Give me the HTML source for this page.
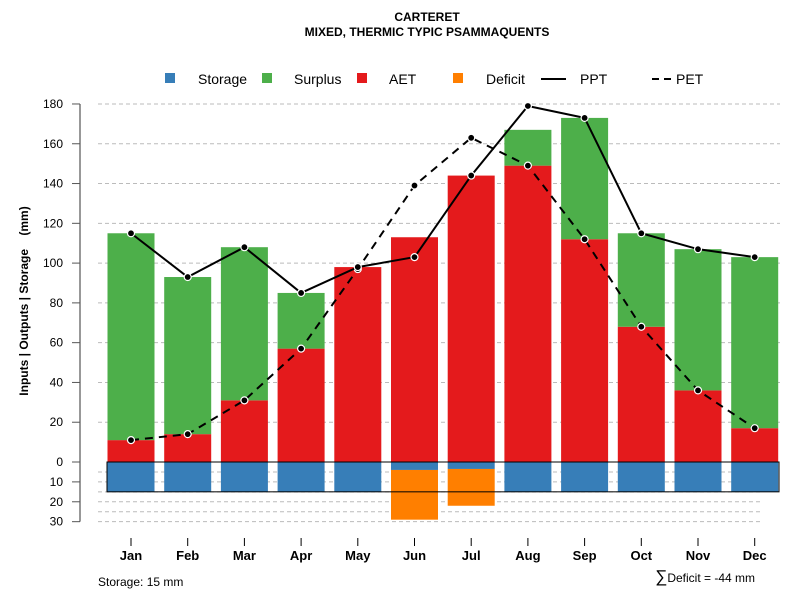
<!DOCTYPE html>
<html><head><meta charset="utf-8"><style>
body{margin:0;background:#fff}
svg{display:block;font-family:"Liberation Sans",sans-serif}
</style></head><body>
<svg id="c" width="800" height="600">
<text x="427" y="21" text-anchor="middle" font-size="12" font-weight="bold">CARTERET</text>
<text x="427" y="36" text-anchor="middle" font-size="12" font-weight="bold">MIXED, THERMIC TYPIC PSAMMAQUENTS</text>
<text transform="translate(28,301) rotate(-90)" text-anchor="middle" font-size="12" font-weight="bold" xml:space="preserve">Inputs | Outputs | Storage    (mm)</text>
<text x="98" y="586" font-size="12">Storage: 15 mm</text>
<text x="755" y="582" text-anchor="end" font-size="12"><tspan font-size="17">∑</tspan>Deficit = -44 mm</text>
<g id="legend"></g>
<g id="plot"></g>
</svg>
<script>
const months=["Jan","Feb","Mar","Apr","May","Jun","Jul","Aug","Sep","Oct","Nov","Dec"];
const ppt=[115,93,108,85,98,103,144,179,173,115,107,103];
const pet=[11,14,31,57,97,139,163,149,112,68,36,17];
const aet=[11,14,31,57,98,113,144,149,112,68,36,17];
const surplus=[104,79,77,28,0,0,0,18,61,47,71,86];
const storage=[15,15,15,15,15,4,3.5,15,15,15,15,15];
const deficit=[0,0,0,0,0,25,18.5,0,0,0,0,0];
const yTicks=[0,20,40,60,80,100,120,140,160,180];
const yTicksLow=[10,20,30];
const NS="http://www.w3.org/2000/svg";
const X=i=>131+i*56.7;
const Y=v=>462-v*1.989;
const plot=document.getElementById('plot');
function mk(tag,a,p){const e=document.createElementNS(NS,tag);for(const k in a)e.setAttribute(k,a[k]);(p||plot).appendChild(e);return e;}
for(let v=20;v<=180;v+=20){const g=mk('line',{x1:98,x2:780,y1:Y(v),y2:Y(v),stroke:'#bbb','stroke-dasharray':'4,3'});

}
for(let v=5;v<=30;v+=5){const g=mk('line',{x1:98,x2:760,y1:Y(-v),y2:Y(-v),stroke:'#bbb','stroke-dasharray':'4,3'});

}
const ax=mk('line',{x1:80,x2:80,y1:Y(180),y2:Y(-30),stroke:'#777','stroke-width':1.5});


yTicks.forEach(v=>{mk('line',{x1:72,x2:80,y1:Y(v),y2:Y(v),stroke:'#555'});
const t=mk('text',{x:63,y:Y(v)+4,'text-anchor':'end','font-size':12});t.textContent=v;

});
yTicksLow.forEach(v=>{mk('line',{x1:72,x2:80,y1:Y(-v),y2:Y(-v),stroke:'#555'});
const t=mk('text',{x:63,y:Y(-v)+4,'text-anchor':'end','font-size':12});t.textContent=v;

});
const bw=47;
months.forEach((m,i)=>{
 const x=X(i)-bw/2;
 const a=mk('rect',{x:x,y:Y(aet[i]),width:bw,height:aet[i]*1.989,fill:'#e41a1c'});
 
 
 if(surplus[i]>0){const s=mk('rect',{x:x,y:Y(aet[i]+surplus[i]),width:bw,height:surplus[i]*1.989,fill:'#4daf4a'});
 
 }
 const st=mk('rect',{x:x,y:Y(0),width:bw,height:storage[i]*1.989,fill:'#377eb8'});
 
 
 if(deficit[i]>0){const d=mk('rect',{x:x,y:Y(-storage[i]),width:bw,height:deficit[i]*1.989,fill:'#ff7f00'});
 
 }
 mk('line',{x1:X(i),x2:X(i),y1:538,y2:546,stroke:'#000'});
 const t=mk('text',{x:X(i),y:560,'text-anchor':'middle','font-size':13,'font-weight':'bold'});t.textContent=m;
 
 
});
const box=mk('rect',{x:107,y:Y(0),width:672,height:15*1.989,fill:'none',stroke:'#000','stroke-width':1});


function line(arr,dash,name){
 const p=mk('polyline',{points:arr.map((v,i)=>X(i)+','+Y(v)).join(' '),fill:'none',stroke:'#000','stroke-width':2,'stroke-dasharray':dash});
 
 
 arr.forEach((v,i)=>{const c=mk('circle',{cx:X(i),cy:Y(v),r:3.5,fill:'#000',stroke:'#fff','stroke-width':1.2});
 
 });
}
line(pet,'8,6','pet');
line(ppt,'none','ppt');
const lg=document.getElementById('legend');
[["Storage","#377eb8",165,198],["Surplus","#4daf4a",262,294],["AET","#e41a1c",357,389],["Deficit","#ff7f00",453,486]].forEach(([n,c,x,tx])=>{
 const r=mk('rect',{x:x,y:73,width:10,height:10,fill:c},lg);
 
 
 const t=mk('text',{x:tx,y:84,'font-size':14},lg);t.textContent=n;
 
 
});
mk('line',{x1:541,x2:566,y1:79,y2:79,stroke:'#000','stroke-width':2},lg);
const t1=mk('text',{x:580,y:84,'font-size':14},lg);t1.textContent='PPT';


mk('line',{x1:652,x2:674,y1:79,y2:79,stroke:'#000','stroke-width':2,'stroke-dasharray':'7,5'},lg);
const t2=mk('text',{x:676,y:84,'font-size':14},lg);t2.textContent='PET';


</script>
</body></html>
